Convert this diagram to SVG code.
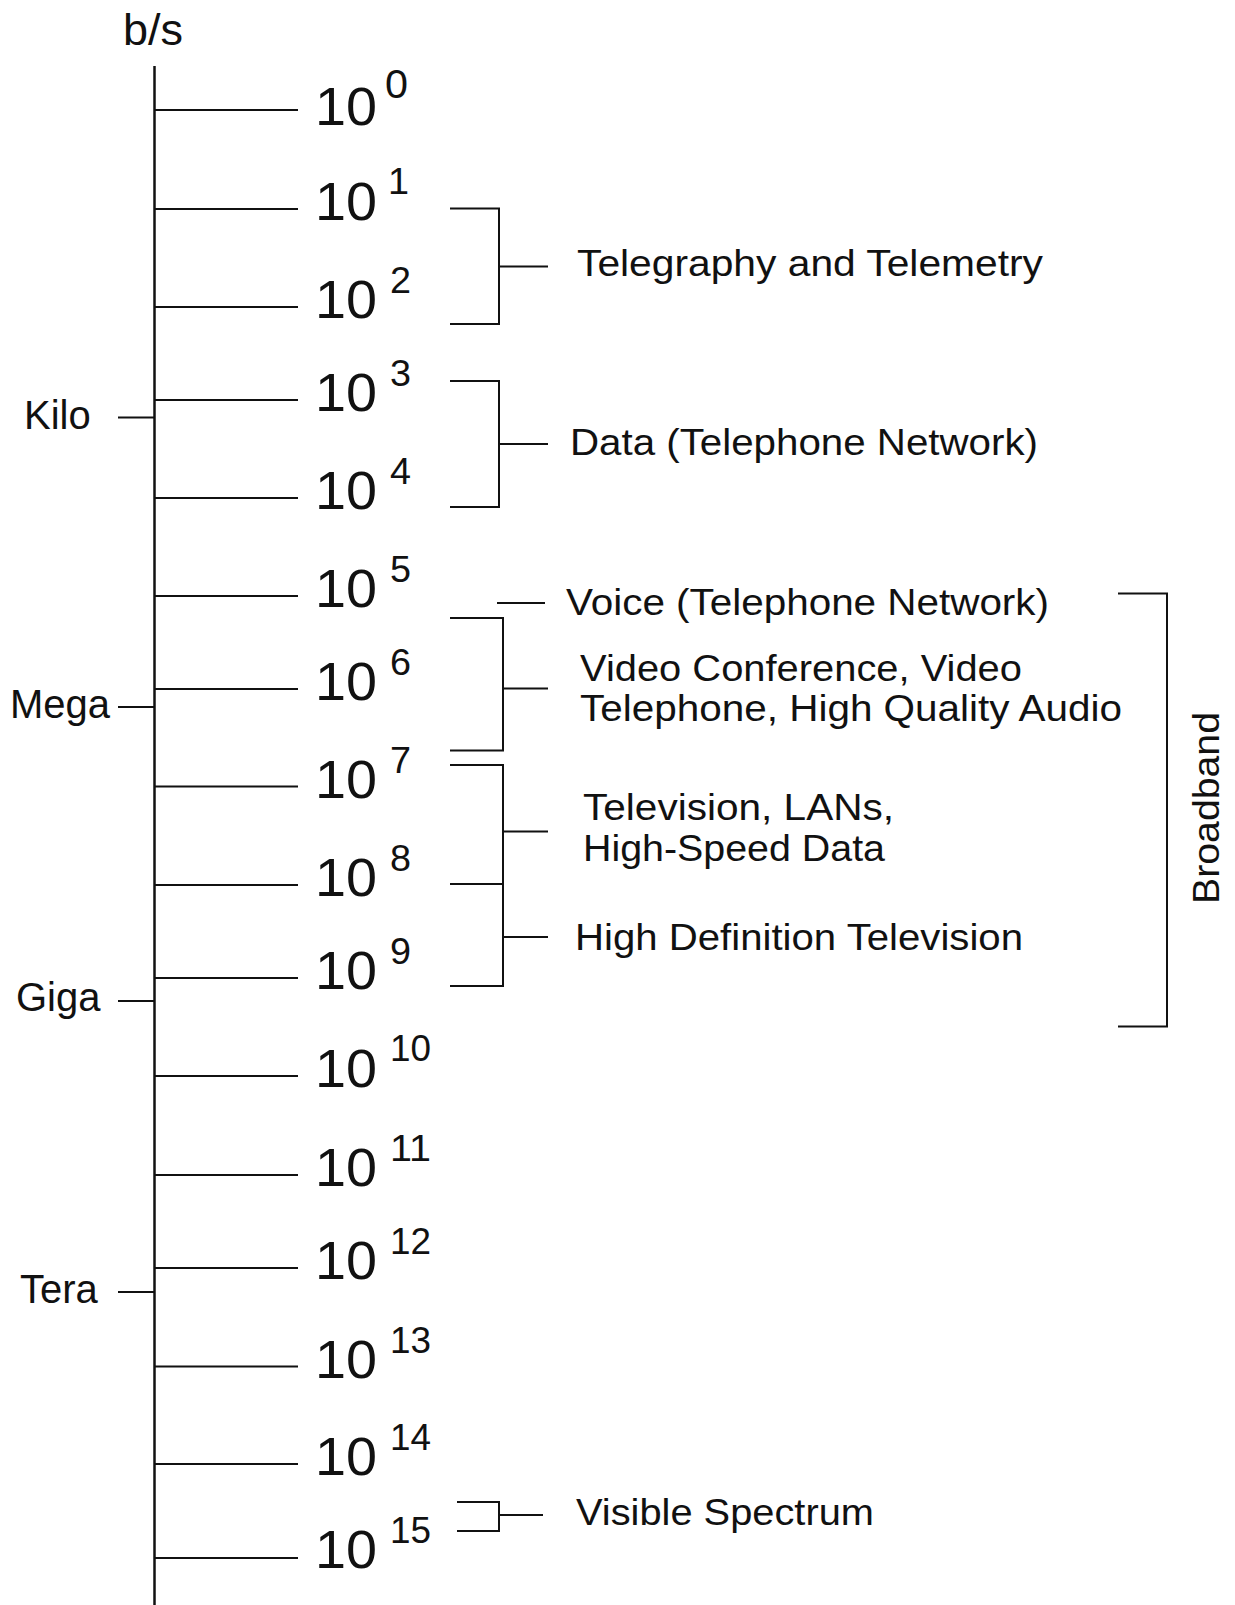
<svg xmlns="http://www.w3.org/2000/svg" width="1235" height="1605" viewBox="0 0 1235 1605">
<style>
text{font-family:"Liberation Sans",Arial,Helvetica,sans-serif;fill:#111}
.ln{stroke:#111;stroke-width:2;fill:none}
.ax{stroke:#111;stroke-width:2.5;fill:none}
.b{font-size:53px}
.s{font-size:37px}
.u{font-size:40px}
.l{font-size:36px}
</style>
<rect width="1235" height="1605" fill="#fff"/>
<g id="unit"><text x="123" y="45" font-size="45">b/s</text></g>
<g id="connectors">
<line class="ax" x1="154.5" y1="66" x2="154.5" y2="1605"/>
<path class="ln" d="M154.5 110H298M154.5 209H298M154.5 307H298M154.5 400H298M154.5 498H298M154.5 596H298M154.5 689H298M154.5 786.5H298M154.5 885H298M154.5 978H298M154.5 1076H298M154.5 1175H298M154.5 1268H298M154.5 1366.5H298M154.5 1464H298M154.5 1558H298"/>
<path class="ln" d="M118 417.5H154.5M118 707H154.5M118 1001H154.5M118 1292H154.5"/>
<path class="ln" d="M450 208.5H499V324H450M499 266.5H548"/>
<path class="ln" d="M450 381H499V507H450M499 444H548"/>
<path class="ln" d="M497 603H545"/>
<path class="ln" d="M450 618H503V750.5H450M503 688.5H548"/>
<path class="ln" d="M450 765H503V986H450M450 884H503M503 831.5H548M503 937H548"/>
<path class="ln" d="M1118 593.5H1167V1026.5H1118"/>
<path class="ln" d="M457 1502H499V1531H457M499 1515H543"/>
</g>
<g id="p0"><text class="b" x="315" y="125" textLength="62" lengthAdjust="spacingAndGlyphs">10</text><text x="385" y="98" font-size="40" textLength="23" lengthAdjust="spacingAndGlyphs">0</text></g>
<g id="p1"><text class="b" x="315" y="220" textLength="62" lengthAdjust="spacingAndGlyphs">10</text><text class="s" x="388" y="194" textLength="21" lengthAdjust="spacingAndGlyphs">1</text></g>
<g id="p2"><text class="b" x="315" y="318" textLength="62" lengthAdjust="spacingAndGlyphs">10</text><text class="s" x="390" y="293" textLength="21" lengthAdjust="spacingAndGlyphs">2</text></g>
<g id="p3"><text class="b" x="315" y="411" textLength="62" lengthAdjust="spacingAndGlyphs">10</text><text class="s" x="390" y="386" textLength="21" lengthAdjust="spacingAndGlyphs">3</text></g>
<g id="p4"><text class="b" x="315" y="509" textLength="62" lengthAdjust="spacingAndGlyphs">10</text><text class="s" x="390" y="484" textLength="21" lengthAdjust="spacingAndGlyphs">4</text></g>
<g id="p5"><text class="b" x="315" y="607" textLength="62" lengthAdjust="spacingAndGlyphs">10</text><text class="s" x="390" y="582" textLength="21" lengthAdjust="spacingAndGlyphs">5</text></g>
<g id="p6"><text class="b" x="315" y="700" textLength="62" lengthAdjust="spacingAndGlyphs">10</text><text class="s" x="390" y="675" textLength="21" lengthAdjust="spacingAndGlyphs">6</text></g>
<g id="p7"><text class="b" x="315" y="797.5" textLength="62" lengthAdjust="spacingAndGlyphs">10</text><text class="s" x="390" y="772.5" textLength="21" lengthAdjust="spacingAndGlyphs">7</text></g>
<g id="p8"><text class="b" x="315" y="896" textLength="62" lengthAdjust="spacingAndGlyphs">10</text><text class="s" x="390" y="871" textLength="21" lengthAdjust="spacingAndGlyphs">8</text></g>
<g id="p9"><text class="b" x="315" y="989" textLength="62" lengthAdjust="spacingAndGlyphs">10</text><text class="s" x="390" y="964" textLength="21" lengthAdjust="spacingAndGlyphs">9</text></g>
<g id="p10"><text class="b" x="315" y="1087" textLength="62" lengthAdjust="spacingAndGlyphs">10</text><text class="s" x="390" y="1061" textLength="41" lengthAdjust="spacingAndGlyphs">10</text></g>
<g id="p11"><text class="b" x="315" y="1186" textLength="62" lengthAdjust="spacingAndGlyphs">10</text><text class="s" x="390" y="1161" textLength="41" lengthAdjust="spacingAndGlyphs">11</text></g>
<g id="p12"><text class="b" x="315" y="1279" textLength="62" lengthAdjust="spacingAndGlyphs">10</text><text class="s" x="390" y="1254" textLength="41" lengthAdjust="spacingAndGlyphs">12</text></g>
<g id="p13"><text class="b" x="315" y="1377.5" textLength="62" lengthAdjust="spacingAndGlyphs">10</text><text class="s" x="390" y="1352.5" textLength="41" lengthAdjust="spacingAndGlyphs">13</text></g>
<g id="p14"><text class="b" x="315" y="1475" textLength="62" lengthAdjust="spacingAndGlyphs">10</text><text class="s" x="390" y="1450" textLength="41" lengthAdjust="spacingAndGlyphs">14</text></g>
<g id="p15"><text class="b" x="315" y="1568" textLength="62" lengthAdjust="spacingAndGlyphs">10</text><text class="s" x="390" y="1543" textLength="41" lengthAdjust="spacingAndGlyphs">15</text></g>
<g id="kilo"><text class="u" x="24" y="429">Kilo</text></g>
<g id="mega"><text class="u" x="10" y="718">Mega</text></g>
<g id="giga"><text class="u" x="16" y="1011">Giga</text></g>
<g id="tera"><text class="u" x="20" y="1303">Tera</text></g>
<g id="telegraphy"><text class="l" x="577" y="276" textLength="466" lengthAdjust="spacingAndGlyphs">Telegraphy and Telemetry</text></g>
<g id="data"><text class="l" x="570" y="455" textLength="468" lengthAdjust="spacingAndGlyphs">Data (Telephone Network)</text></g>
<g id="voice"><text class="l" x="566" y="615" textLength="483" lengthAdjust="spacingAndGlyphs">Voice (Telephone Network)</text></g>
<g id="video"><text class="l" x="580" y="681" textLength="442" lengthAdjust="spacingAndGlyphs">Video Conference, Video</text><text class="l" x="580" y="721" textLength="542" lengthAdjust="spacingAndGlyphs">Telephone, High Quality Audio</text></g>
<g id="television"><text class="l" x="583" y="820" textLength="311" lengthAdjust="spacingAndGlyphs">Television, LANs,</text><text class="l" x="583" y="861" textLength="302" lengthAdjust="spacingAndGlyphs">High-Speed Data</text></g>
<g id="hdtv"><text class="l" x="575" y="950" textLength="448" lengthAdjust="spacingAndGlyphs">High Definition Television</text></g>
<g id="visible"><text class="l" x="576" y="1525" textLength="298" lengthAdjust="spacingAndGlyphs">Visible Spectrum</text></g>
<g id="broadband"><text class="l" transform="translate(1219,904) rotate(-90)" x="0" y="0" textLength="192" lengthAdjust="spacingAndGlyphs">Broadband</text></g>
</svg>
